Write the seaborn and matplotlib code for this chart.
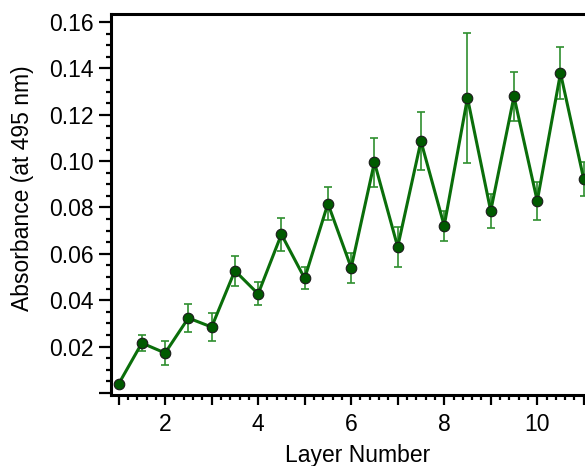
import matplotlib
matplotlib.use("Agg")
import matplotlib.pyplot as plt
from matplotlib.ticker import MultipleLocator, FuncFormatter
import seaborn as sns
import pandas as pd

# Absorbance at 495 nm after each deposited half-layer
layer = [1, 1.5, 2, 2.5, 3, 3.5, 4, 4.5, 5, 5.5, 6, 6.5, 7, 7.5, 8, 8.5, 9, 9.5, 10, 10.5, 11]
absorbance = [0.0038, 0.0215, 0.0172, 0.0323, 0.0284, 0.0527, 0.0427, 0.0684, 0.0494, 0.0817,
              0.0540, 0.0995, 0.0630, 0.1086, 0.0721, 0.1273, 0.0785, 0.1279, 0.0828, 0.1380, 0.0922]
std_err = [0.0010, 0.0035, 0.0053, 0.0060, 0.0060, 0.0064, 0.0050, 0.0070, 0.0047, 0.0073,
           0.0065, 0.0105, 0.0087, 0.0125, 0.0065, 0.0280, 0.0074, 0.0107, 0.0080, 0.0113, 0.0074]

df = pd.DataFrame({"Layer": layer, "Absorbance": absorbance, "err": std_err})

sns.set_theme(style="ticks")
plt.rcParams["font.family"] = ["Liberation Sans", "DejaVu Sans"]

fig = plt.figure(figsize=(5.85, 4.66), dpi=100)
ax = fig.add_axes([0.19, 0.152, 0.819, 0.818])

ax.errorbar(df["Layer"], df["Absorbance"], yerr=df["err"], fmt="none",
            ecolor="#2f8f2f", elinewidth=1.2, capsize=3.2, capthick=1.2, zorder=2)
sns.lineplot(data=df, x="Layer", y="Absorbance", ax=ax, color="#0a6e0a", linewidth=2.2,
             marker="o", markersize=7.6, markerfacecolor="#005a00", markeredgecolor="#1a1a1a",
             markeredgewidth=0.8, zorder=3)

ax.set_xlim(0.84, 11.14)
ax.set_ylim(-0.001, 0.1635)

ax.xaxis.set_major_locator(MultipleLocator(1))
ax.xaxis.set_minor_locator(MultipleLocator(0.2))
ax.xaxis.set_major_formatter(FuncFormatter(lambda v, p: f"{int(round(v))}" if round(v) % 2 == 0 else ""))
ax.yaxis.set_major_locator(MultipleLocator(0.02))
ax.yaxis.set_minor_locator(MultipleLocator(0.005))
ax.yaxis.set_major_formatter(FuncFormatter(lambda v, p: f"{v:.2f}" if v > 0.001 else ""))

ax.tick_params(which="both", direction="out", width=1.6, color="black",
               labelsize=16.5, labelcolor="black")
ax.tick_params(axis="y", which="major", length=9, pad=3.5)
ax.tick_params(axis="x", which="major", length=7.5, pad=5.5)
ax.tick_params(which="minor", length=3.8)

for side in ["left", "bottom", "top"]:
    ax.spines[side].set_visible(True)
    ax.spines[side].set_linewidth(2.2)
    ax.spines[side].set_color("black")
ax.spines["right"].set_visible(False)

ax.set_xlabel("Layer Number", fontsize=16.5, color="black", va="center")
ax.set_ylabel("Absorbance (at 495 nm)", fontsize=16.5, color="black", va="center")
ax.xaxis.set_label_coords(0.515, -0.157)
ax.yaxis.set_label_coords(-0.186, 0.543)

fig.savefig("out.png", dpi=100)
